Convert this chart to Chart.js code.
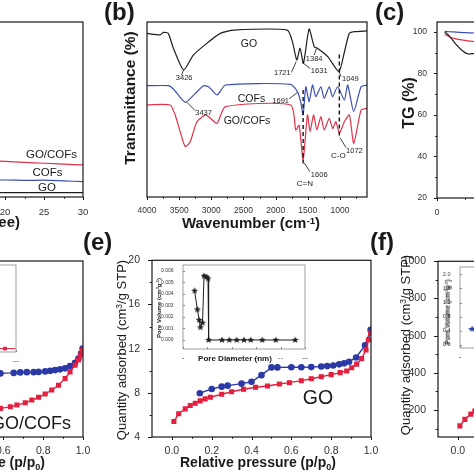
<!DOCTYPE html>
<html>
<head>
<meta charset="utf-8">
<script src="https://cdn.jsdelivr.net/npm/chart.js@4.4.0/dist/chart.umd.min.js"></script>
<style>
html, body { margin: 0; padding: 0; background: #fff; }
#page { position: relative; width: 474px; height: 474px; overflow: hidden; background: #fff;
  font-family: "Liberation Sans", Arial, sans-serif; color: #1a1a1a; }
canvas { position: absolute; }
.t { position: absolute; white-space: nowrap; line-height: 1; z-index: 2; }
.b { font-weight: bold; }
.c { transform: translate(-50%, -50%); }
.r { transform: translate(-100%, -50%); }
.rot { transform: translate(-50%, -50%) rotate(-90deg); }
.sup { font-size: .65em; position: relative; top: -.45em; }
.sub { font-size: .65em; position: relative; top: .3em; }
</style>
</head>
<body>
<div id="page">
  <div class="t b" style="left:104px;top:0;font-size:24px">(b)</div>
  <div class="t b" style="left:375px;top:0;font-size:24px">(c)</div>
  <div class="t b" style="left:83px;top:230px;font-size:24px">(e)</div>
  <div class="t b" style="left:370px;top:230px;font-size:24px">(f)</div>

  <div class="t b r" style="left:20px;top:221px;font-size:15px">2θ (degree)</div>
  <div class="t c" style="left:51.5px;top:155px;font-size:11.5px">GO/COFs</div>
  <div class="t c" style="left:47.5px;top:172.5px;font-size:11.5px">COFs</div>
  <div class="t c" style="left:47px;top:188px;font-size:11.5px">GO</div>

  <div class="t b rot" style="left:130px;top:98px;font-size:15.5px">Transmittance (%)</div>
  <div class="t b c" style="left:251px;top:222px;font-size:15px">Wavenumber (cm<span class="sup">-1</span>)</div>
  <div class="t c" style="left:249px;top:43px;font-size:10.5px">GO</div>
  <div class="t c" style="left:251.5px;top:98px;font-size:10.5px">COFs</div>
  <div class="t c" style="left:247px;top:119.5px;font-size:10.5px">GO/COFs</div>

  <div class="t b rot" style="left:409px;top:103px;font-size:16px">TG (%)</div>

  <div class="t b c" style="left:-33px;top:462px;font-size:14px">Relative pressure (p/p<span class="sub">0</span>)</div>
  <div class="t r" style="left:71px;top:423px;font-size:18px">GO/COFs</div>

  <div class="t rot" style="left:121px;top:350px;font-size:13px">Quantity adsorbed (cm<span class="sup">3</span>/g STP)</div>
  <div class="t b c" style="left:258px;top:462px;font-size:14px">Relative pressure (p/p<span class="sub">0</span>)</div>
  <div class="t c" style="left:318px;top:398px;font-size:19.5px">GO</div>
  <div class="t b c" style="left:235px;top:359px;font-size:8px">Pore Diameter (nm)</div>
  <div class="t b rot" style="left:159px;top:308px;font-size:6px">Pore Volume (cm<span class="sup">3</span>g<span class="sup">-1</span>)</div>

  <div class="t rot" style="left:405px;top:345px;font-size:13px">Quantity adsorbed (cm<span class="sup">3</span>/g STP)</div>
  <div class="t b rot" style="left:448px;top:312px;font-size:6.5px">Pore Volume (cm<span class="sup">3</span>g<span class="sup">-1</span>)</div>
</div>
<script>
// (a) XRD, visible right end only
const xrdAngle = [17, 20, 22.5, 25, 27.5, 30];
const xrdGOCOF = [20.8, 20.4, 19.8, 19.3, 18.8, 18.3];
const xrdCOF = [9.8, 9.7, 9.5, 9.6, 9.2, 8.8];
const xrdGO = [2.5, 2.5, 2.5, 2.5, 2.5, 2.5];
const xrdTicks = [5, 10, 15, 20, 25, 30];

// (b) FTIR
const goWave = [4000, 3800, 3745, 3670, 3590, 3430, 3280, 3070, 2860, 2650, 1820, 1740, 1672, 1620, 1568, 1480, 1400, 1350, 1190, 1016, 930, 855, 775, 580];
const goTrans = [93.5, 92.6, 94.1, 93.5, 85, 72.6, 81.1, 87.8, 93.5, 95.4, 95.4, 88.8, 78.3, 85, 76.4, 96, 85.9, 85, 80.2, 71.6, 83, 93.5, 94.5, 94.9];
const cofWave = [4000, 3667, 3589, 3406, 3250, 3120, 3042, 2911, 2781, 1766, 1662, 1609, 1573, 1531, 1479, 1427, 1375, 1297, 1245, 1167, 1115, 1036, 932, 880, 786, 672, 580];
const cofTrans = [63.6, 63.6, 61.7, 54.1, 59.2, 63.6, 63, 58.3, 64, 64.4, 60.2, 54.1, 46.9, 63, 54.5, 64, 57.3, 63, 56.4, 63, 57.3, 63, 55.4, 64, 48.8, 63, 64];
const gcWave = [4000, 3641, 3562, 3484, 3406, 3328, 3224, 3094, 3042, 2911, 2781, 1766, 1687, 1635, 1573, 1505, 1464, 1411, 1359, 1297, 1245, 1167, 1115, 1063, 1010, 932, 854, 786, 672, 580];
const gcTrans = [52.6, 52.6, 46.9, 37.3, 28.8, 31.6, 43, 46.9, 45.9, 42.1, 51.6, 52.6, 38.3, 41.1, 21.1, 46.9, 37.3, 46.9, 38.3, 45.9, 38.3, 45, 39.2, 43, 36.4, 43, 46.9, 30.7, 49.7, 50.7];
const ftirTicks = [4000, 3500, 3000, 2500, 2000, 1500, 1000];
const ftirLabels = [['3426', 3422, 67.8], ['3437', 3120, 47.8], ['1721', 1896, 70.7], ['1631', 1323, 72],
  ['1384', 1401, 78.9], ['1049', 839, 67.4], ['1691', 1922, 54.9], ['1606', 1323, 12.6], ['1072', 776, 26.3],
  ['C=N', 1547, 7.4], ['C-O', 1026, 23.6]];
const ftirLeaders = [[3432, 72.6, 3464, 69.7], [3380, 54.1, 3250, 49.3], [1755, 71.2, 1682, 77.3], [1464, 73.5, 1589, 77],
  [1401, 81.1, 1365, 85], [984, 68.8, 1016, 72], [1792, 56, 1661, 59.8], [1469, 14.5, 1557, 19.6], [906, 28.2, 1000, 33.9]];
const ftirDashes = [[1573, 61.1, 19.2], [1010, 81.5, 33.5]];

// (c) TG, visible left end only
const tgTemp = [28, 46, 70, 95, 113, 135];
const tgGO = [100, 97.9, 93.9, 90.7, 89.4, 89.6];
const tgCOF = [100.3, 100.1, 99.9, 99.7, 99.6, 99.5];
const tgGOCOF = [98.8, 97.6, 96.7, 96.1, 95.7, 95.4];
const tgTempTicks = [0, 200, 400, 600, 800];
const tgTicks = [20, 40, 60, 80, 100];

// (d) GO/COFs isotherm, visible right part
const dAdsP = [0.585, 0.635, 0.668, 0.71, 0.743, 0.777, 0.81, 0.843, 0.877, 0.91, 0.935, 0.96, 0.977, 0.988, 0.998];
const dAdsV = [114, 120, 127, 136, 147, 158, 171, 187, 206, 233, 259, 286, 306, 326, 345];
const dDesP = [0.585, 0.652, 0.685, 0.718, 0.752, 0.777, 0.81, 0.835, 0.86, 0.885, 0.91, 0.935, 0.96, 0.977, 0.99, 0.998];
const dDesV = [253, 255, 257, 258, 258, 259, 261, 263, 266, 269, 273, 282, 295, 312, 332, 352];
const dPoreD = [13.5, 18.2, 19.9];
const dPoreV = [0, 0, 0];

// (e) GO isotherm and pore size
const eAdsP = [0.01, 0.034, 0.067, 0.092, 0.117, 0.142, 0.167, 0.193, 0.25, 0.30, 0.36, 0.42, 0.48, 0.54, 0.59, 0.65, 0.70, 0.75, 0.80, 0.845, 0.878, 0.903, 0.928, 0.953, 0.975, 0.987, 0.998];
const eAdsV = [5.4, 6.1, 6.55, 6.85, 7.05, 7.27, 7.45, 7.6, 7.87, 8.1, 8.32, 8.5, 8.62, 8.8, 8.92, 9.1, 9.28, 9.46, 9.65, 9.83, 9.98, 10.27, 10.6, 11.1, 11.87, 12.78, 13.4];
const eDesP = [0.14, 0.20, 0.25, 0.28, 0.35, 0.40, 0.45, 0.50, 0.53, 0.60, 0.65, 0.70, 0.75, 0.78, 0.81, 0.84, 0.865, 0.89, 0.925, 0.97, 0.998];
const eDesV = [7.96, 8.35, 8.56, 8.65, 8.83, 9.0, 9.6, 10.3, 10.3, 10.31, 10.31, 10.33, 10.38, 10.42, 10.48, 10.58, 10.67, 10.82, 11.2, 12.3, 13.7];
const ePoreD = [1.9, 2.35, 2.65, 2.85, 3.2, 3.45, 3.85, 4.1, 4.2, 6.4, 7.6, 8.8, 10, 11.1, 13, 15.2, 18.4];
const ePoreV = [0.00427, 0.00265, 0.00173, 0.0011, 0.0015, 0.00556, 0.00548, 0.00533, 0, 0, 0, 0, 0, 0, 0, 0, 0];
const pTicks = [0, 0.2, 0.4, 0.6, 0.8, 1.0];
const eVTicks = [4, 8, 12, 16, 20];
const poreDTicks = [0, 4, 8, 12, 16, 20];
const ePoreTicks = [0, 0.001, 0.002, 0.003, 0.004, 0.005, 0.006];

// (f) COFs isotherm, visible left end only
const fAdsP = [0.01, 0.035, 0.065, 0.085];
const fAdsV = [115, 150, 178, 194];
const fPoreD = [1.4, 2.0];
const fPoreV = [0.45, 0.45];
const fVTicks = [200, 400, 600, 800, 1000];
const fPoreTicks = [0, 0.4, 0.8, 1.2, 1.6, 2.0];

const BLACK = '#1e1e1e', BLUE = '#3b4fb0', RED = '#e0324a';
const IBLUE = '#2b3aa6', IRED = '#e3203f';
const page = document.getElementById('page');
Chart.defaults.font.family = '"Liberation Sans", Arial, sans-serif';
Chart.defaults.color = '#333';

// box around the plot area plus outward/inward major and minor tick marks
const frameTicks = {
  id: 'frameTicks',
  afterDraw(chart, args, o) {
    if (!o || !o.color) return;
    const ctx = chart.ctx, a = chart.chartArea;
    ctx.save();
    ctx.strokeStyle = o.color;
    ctx.lineWidth = o.width;
    ctx.strokeRect(a.left, a.top, a.right - a.left, a.bottom - a.top);
    ctx.lineWidth = 1;
    ['x', 'y'].forEach(id => {
      const t = o[id], s = chart.scales[id];
      if (!t || !s) return;
      const vals = s.ticks.map(k => k.value).sort((p, q) => p - q);
      const lo = Math.min(s.min, s.max), hi = Math.max(s.min, s.max);
      const marks = vals.map(v => [v, t.len]);
      if (t.minor && vals.length > 1) {
        const step = (vals[1] - vals[0]) / t.minor;
        for (let k = -t.minor; k <= vals.length * t.minor; k++) {
          if (k % t.minor === 0) continue;
          const v = vals[0] + k * step;
          if (v > lo && v < hi) marks.push([v, t.len * 0.6]);
        }
      }
      const d = t.dir === 'in' ? -1 : 1;
      marks.forEach(([v, len]) => {
        const p = Math.round(s.getPixelForValue(v)) + 0.5;
        ctx.beginPath();
        if (id === 'x') { ctx.moveTo(p, a.bottom); ctx.lineTo(p, a.bottom + d * len); }
        else { ctx.moveTo(a.left, p); ctx.lineTo(a.left - d * len, p); }
        ctx.stroke();
      });
    });
    ctx.restore();
  }
};
Chart.register(frameTicks);

const ftirNotes = {
  id: 'ftirNotes',
  afterDatasetsDraw(chart) {
    const ctx = chart.ctx, x = chart.scales.x, y = chart.scales.y;
    ctx.save();
    ctx.strokeStyle = '#111';
    ctx.lineWidth = 1.4;
    ctx.setLineDash([4, 3]);
    ftirDashes.forEach(([w, t1, t2]) => {
      ctx.beginPath();
      ctx.moveTo(x.getPixelForValue(w), y.getPixelForValue(t1));
      ctx.lineTo(x.getPixelForValue(w), y.getPixelForValue(t2));
      ctx.stroke();
    });
    ctx.setLineDash([]);
    ctx.lineWidth = 0.8;
    ftirLeaders.forEach(([w1, t1, w2, t2]) => {
      ctx.beginPath();
      ctx.moveTo(x.getPixelForValue(w1), y.getPixelForValue(t1));
      ctx.lineTo(x.getPixelForValue(w2), y.getPixelForValue(t2));
      ctx.stroke();
    });
    ctx.fillStyle = '#222';
    ctx.textAlign = 'center';
    ctx.textBaseline = 'middle';
    ftirLabels.forEach(([s, w, t]) => {
      ctx.font = (s.length === 3 ? '8px ' : '7.5px ') + Chart.defaults.font.family;
      ctx.fillText(s, x.getPixelForValue(w), y.getPixelForValue(t));
    });
    ctx.restore();
  }
};

function lin(min, max, tickVals, o = {}) {
  const ticks = {
    display: !!tickVals,
    autoSkip: false, maxRotation: 0,
    font: { size: o.size || 10 }, color: o.color || '#333', padding: o.pad || 0
  };
  if (o.fmt) ticks.callback = v => o.fmt(v);
  const axis = { type: 'linear', min, max, reverse: !!o.reverse,
    grid: { display: false }, border: { display: false }, ticks };
  if (tickVals) axis.afterBuildTicks = s => { s.ticks = tickVals.map(v => ({ value: v })); };
  return axis;
}

function ser(xs, ys, color, extra) {
  return Object.assign({
    data: xs.map((x, i) => ({ x, y: ys[i] })),
    borderColor: color, backgroundColor: color,
    borderWidth: 1.2, pointRadius: 0, tension: 0.2
  }, extra || {});
}

function panel(box, pad, datasets, xs, ys, frame, extraPlugins) {
  const c = document.createElement('canvas');
  const w = box.r - box.l + pad.l + pad.r, h = box.b - box.t + pad.t + pad.b;
  c.width = w; c.height = h;
  c.style.left = (box.l - pad.l) + 'px';
  c.style.top = (box.t - pad.t) + 'px';
  c.style.width = w + 'px'; c.style.height = h + 'px';
  page.appendChild(c);
  xs.position = 'bottom'; ys.position = 'left';
  xs.afterFit = s => { s.height = pad.b; };
  ys.afterFit = s => { s.width = pad.l; };
  return new Chart(c, {
    type: 'line',
    data: { datasets },
    options: {
      responsive: false, animation: false, events: [],
      layout: { padding: { left: 0, top: pad.t, right: pad.r, bottom: 0 } },
      scales: { x: xs, y: ys },
      plugins: { legend: { display: false }, tooltip: { enabled: false }, frameTicks: frame }
    },
    plugins: extraPlugins || []
  });
}

function starImg(color, r) {
  const c = document.createElement('canvas');
  const s = Math.ceil(r * 2 + 2);
  c.width = c.height = s;
  const g = c.getContext('2d');
  g.fillStyle = color;
  g.beginPath();
  for (let i = 0; i < 10; i++) {
    const a = -Math.PI / 2 + i * Math.PI / 5, rr = i % 2 ? r * 0.45 : r;
    g.lineTo(s / 2 + rr * Math.cos(a), s / 2 + rr * Math.sin(a));
  }
  g.closePath();
  g.fill();
  return c;
}

const frameMain = (xt, yt) => ({ color: '#1a1a1a', width: 1.2, x: xt, y: yt });
const frameInset = { color: '#888', width: 0.8, x: { len: 2, dir: 'in' }, y: { len: 2, dir: 'in' } };
const p1 = v => v.toFixed(1);
const mkIso = (p, v, color, style) => ser(p, v, color, { tension: 0, borderWidth: 1.4, pointRadius: 2.6, pointStyle: style });

// (a)
panel({ l: -112, t: 22, r: 83, b: 197 }, { l: 30, t: 10, r: 14, b: 22 },
  [ser(xrdAngle, xrdGO, BLACK), ser(xrdAngle, xrdCOF, BLUE), ser(xrdAngle, xrdGOCOF, RED)],
  lin(5, 30, xrdTicks, { size: 9.5, pad: 2, fmt: String }), lin(0, 100, null),
  frameMain({ len: 3, minor: 2 }, null));

// (b)
panel({ l: 147, t: 22, r: 367, b: 197 }, { l: 30, t: 10, r: 14, b: 22 },
  [ser(goWave, goTrans, BLACK), ser(cofWave, cofTrans, BLUE), ser(gcWave, gcTrans, RED)],
  lin(580, 4000, ftirTicks, { size: 8.5, pad: 1, reverse: true, fmt: String }), lin(0, 100, null),
  frameMain({ len: 3, minor: 2 }, null), [ftirNotes]);

// (c)
panel({ l: 437, t: 22, r: 657, b: 198 }, { l: 30, t: 10, r: 14, b: 22 },
  [ser(tgTemp, tgGO, BLACK), ser(tgTemp, tgGOCOF, RED), ser(tgTemp, tgCOF, BLUE)],
  lin(0, 800, tgTempTicks, { size: 8.5, pad: 2, fmt: String }), lin(20, 104.8, tgTicks, { size: 8.5, pad: 2, fmt: String }),
  frameMain({ len: 3, minor: 2 }, { len: 3, minor: 2 }));

// (d)
panel({ l: -136, t: 261, r: 83, b: 437 }, { l: 40, t: 10, r: 14, b: 24 },
  [mkIso(dAdsP, dAdsV, IRED, 'rect'), mkIso(dDesP, dDesV, IBLUE, 'circle')],
  lin(-0.1, 1.0, pTicks, { size: 10.5, fmt: p1 }), lin(0, 700, null),
  frameMain({ len: 3, minor: 2 }, null));
panel({ l: -106, t: 265, r: 16, b: 352 }, { l: 30, t: 8, r: 10, b: 10 },
  [ser(dPoreD, dPoreV, IRED, { tension: 0, borderWidth: 1, pointStyle: 'rect', pointRadius: [2, 2, 0] })],
  lin(0, 20, poreDTicks, { size: 5.5, pad: 0.5, fmt: String }), lin(-0.09, 2.21, fPoreTicks, { size: 5.5, pad: 1.5, fmt: p1 }),
  frameInset);

// (e)
panel({ l: 152, t: 260, r: 371, b: 437 }, { l: 40, t: 10, r: 14, b: 24 },
  [mkIso(eAdsP, eAdsV, IRED, 'rect'), mkIso(eDesP, eDesV, IBLUE, 'circle')],
  lin(-0.1, 1.0, pTicks, { size: 10.5, fmt: p1 }), lin(4, 20, eVTicks, { size: 10.5, pad: 4, fmt: String }),
  frameMain({ len: 3, minor: 2 }, { len: 4, minor: 2 }));
panel({ l: 183, t: 265, r: 305, b: 349 }, { l: 30, t: 8, r: 10, b: 10 },
  [ser(ePoreD, ePoreV, BLACK, { tension: 0, borderWidth: 1, pointStyle: starImg(BLACK, 3.6), pointRadius: 3 })],
  lin(0, 20, poreDTicks, { size: 5.5, pad: 0.5, fmt: String }), lin(-0.00078, 0.0065, ePoreTicks, { size: 5, pad: 1.5, fmt: v => v.toFixed(3) }),
  frameInset);

// (f)
panel({ l: 438, t: 261, r: 657, b: 437 }, { l: 40, t: 10, r: 14, b: 24 },
  [mkIso(fAdsP, fAdsV, IRED, 'rect')],
  lin(-0.1, 1.0, pTicks, { size: 10.5, fmt: p1 }), lin(55, 1000, fVTicks, { size: 10.5, pad: 4, fmt: String }),
  frameMain({ len: 3, minor: 2 }, { len: 4, minor: 2 }));
panel({ l: 460, t: 267, r: 582, b: 348 }, { l: 30, t: 8, r: 10, b: 10 },
  [ser(fPoreD, fPoreV, IBLUE, { tension: 0, borderWidth: 1, pointStyle: starImg(IBLUE, 3.6), pointRadius: [0, 3] })],
  lin(0, 20, poreDTicks, { size: 5.5, pad: 0.5, fmt: String }), lin(-0.09, 2.21, fPoreTicks, { size: 5.5, pad: 1.5, fmt: p1 }),
  frameInset);
</script>
</body>
</html>
